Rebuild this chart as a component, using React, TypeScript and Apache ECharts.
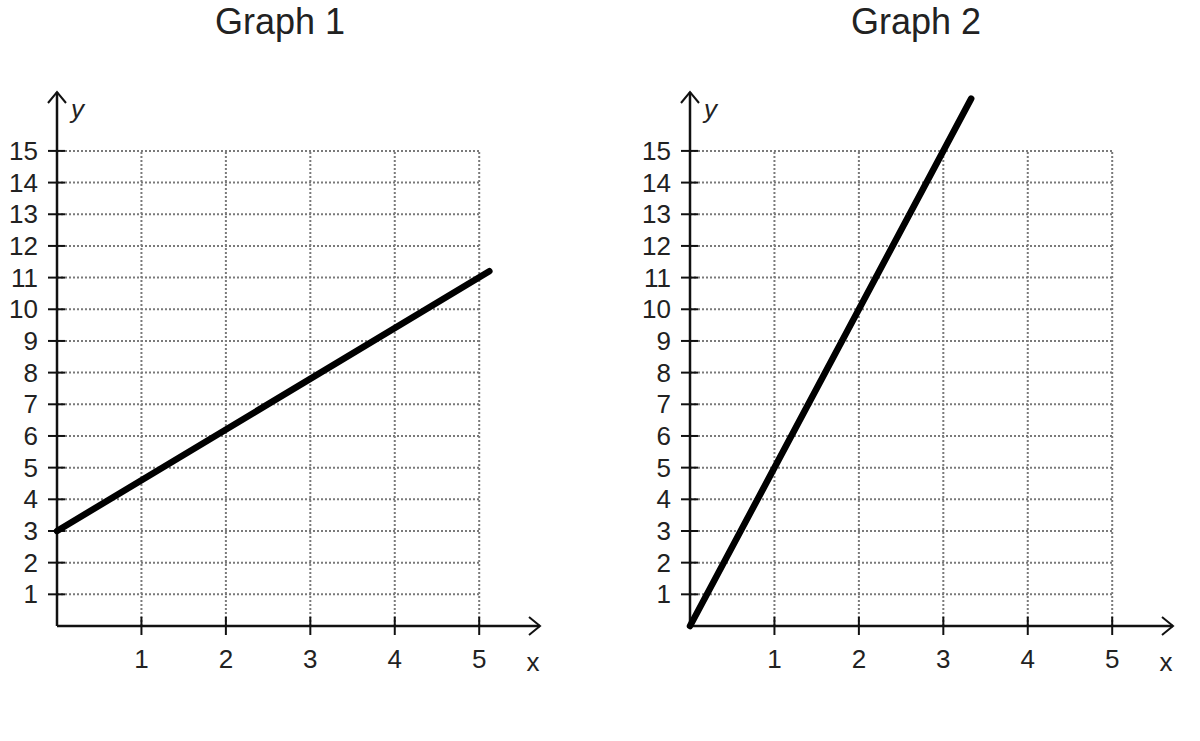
import React, { useEffect, useRef } from "react";
import * as echarts from "echarts";

const titles = ["Graph 1", "Graph 2"];
const xTicks = [1, 2, 3, 4, 5];
const yTicks = [1, 2, 3, 4, 5, 6, 7, 8, 9, 10, 11, 12, 13, 14, 15];
const xGridMax = 5;
const yGridMax = 15;
const xAxisMax = 5.72;
const yAxisMax = 16.86;
const line1 = [
  [0, 3],
  [5.12, 11.2],
];
const line2 = [
  [0, 0],
  [3.33, 16.65],
];
const lines = [line1, line2];

const FONT = "Liberation Sans, Arial, sans-serif";

export default function App() {
  const ref = useRef<HTMLDivElement>(null);
  useEffect(() => {
    if (!ref.current) return;
    const chart = echarts.init(ref.current, null, { renderer: "svg" });

    const gridData = [
      ...yTicks.map((y) => [0, y, xGridMax, y]),
      ...xTicks.map((x) => [x, 0, x, yGridMax]),
    ];

    const grids = [
      { left: 57, top: 92, width: 483, height: 534 },
      { left: 690, top: 92, width: 483, height: 534 },
    ];

    const xAxes = grids.map((_, i) => ({
      type: "value",
      gridIndex: i,
      min: 0,
      max: xAxisMax,
      interval: 1,
      axisLine: { show: false },
      axisTick: { show: false },
      splitLine: { show: false },
      axisLabel: {
        fontSize: 26,
        fontFamily: FONT,
        color: "#222",
        margin: 20,
        formatter: (v: number) => (xTicks.includes(v) ? String(v) : ""),
      },
    }));
    const yAxes = grids.map((_, i) => ({
      type: "value",
      gridIndex: i,
      min: 0,
      max: yAxisMax,
      interval: 1,
      axisLine: { show: false },
      axisTick: { show: false },
      splitLine: { show: false },
      axisLabel: {
        fontSize: 26,
        fontFamily: FONT,
        color: "#222",
        margin: 19,
        formatter: (v: number) => (yTicks.includes(v) ? String(v) : ""),
      },
    }));

    const series: any[] = [];
    grids.forEach((_, i) => {
      series.push({
        type: "custom",
        xAxisIndex: i,
        yAxisIndex: i,
        clip: false,
        z: 1,
        data: gridData,
        renderItem: (params: any, api: any) => {
          const p1 = api.coord([api.value(0), api.value(1)]);
          const p2 = api.coord([api.value(2), api.value(3)]);
          return {
            type: "line",
            shape: { x1: p1[0], y1: p1[1], x2: p2[0], y2: p2[1] },
            style: { stroke: "#7a7a7a", lineWidth: 2, lineDash: [2, 2] },
          };
        },
      });
      series.push({
        type: "custom",
        xAxisIndex: i,
        yAxisIndex: i,
        clip: false,
        z: 3,
        data: [[xAxisMax, yAxisMax]],
        renderItem: (params: any, api: any) => {
          const o = api.coord([0, 0]);
          const xe = api.coord([api.value(0), 0]);
          const ye = api.coord([0, api.value(1)]);
          const axisStyle = { stroke: "#111", lineWidth: 2.5, fill: "none" };
          const children: any[] = [
            { type: "line", shape: { x1: o[0], y1: o[1], x2: xe[0], y2: xe[1] }, style: axisStyle },
            { type: "line", shape: { x1: o[0], y1: o[1], x2: ye[0], y2: ye[1] }, style: axisStyle },
            {
              type: "polyline",
              shape: { points: [[xe[0] - 11, xe[1] - 9], [xe[0], xe[1]], [xe[0] - 11, xe[1] + 9]] },
              style: { stroke: "#111", lineWidth: 2, fill: "none" },
            },
            {
              type: "polyline",
              shape: { points: [[ye[0] - 9, ye[1] + 11], [ye[0], ye[1]], [ye[0] + 9, ye[1] + 11]] },
              style: { stroke: "#111", lineWidth: 2, fill: "none" },
            },
            {
              type: "text",
              style: {
                text: "x",
                x: xe[0] - 7,
                y: xe[1] + 36,
                font: `26px ${FONT}`,
                fill: "#222",
                align: "center",
                verticalAlign: "middle",
              },
            },
            {
              type: "text",
              style: {
                text: "y",
                x: ye[0] + 14,
                y: ye[1] + 17,
                font: `italic 26px ${FONT}`,
                fill: "#222",
                align: "left",
                verticalAlign: "middle",
              },
            },
          ];
          xTicks.forEach((t) => {
            const p = api.coord([t, 0]);
            children.push({
              type: "line",
              shape: { x1: p[0], y1: p[1] - 9, x2: p[0], y2: p[1] + 9 },
              style: { stroke: "#111", lineWidth: 2 },
            });
          });
          yTicks.forEach((t) => {
            const p = api.coord([0, t]);
            children.push({
              type: "line",
              shape: { x1: p[0] - 9, y1: p[1], x2: p[0] + 8, y2: p[1] },
              style: { stroke: "#111", lineWidth: 2 },
            });
          });
          return { type: "group", children };
        },
      });
      series.push({
        type: "line",
        xAxisIndex: i,
        yAxisIndex: i,
        data: lines[i],
        symbol: "none",
        clip: false,
        z: 5,
        lineStyle: { color: "#000", width: 6.5, cap: "round" },
      });
    });

    chart.setOption({
      animation: false,
      backgroundColor: "#fff",
      title: [
        {
          text: titles[0],
          left: 280,
          top: 3,
          padding: 0,
          textAlign: "center",
          textStyle: { fontSize: 36, fontWeight: "normal", fontFamily: FONT, color: "#222" },
        },
        {
          text: titles[1],
          left: 916,
          top: 3,
          padding: 0,
          textAlign: "center",
          textStyle: { fontSize: 36, fontWeight: "normal", fontFamily: FONT, color: "#222" },
        },
      ],
      grid: grids,
      xAxis: xAxes,
      yAxis: yAxes,
      series,
    });
    return () => chart.dispose();
  }, []);
  return (
    <div
      ref={ref}
      style={{ position: "absolute", left: 0, top: 0, width: 1200, height: 741 }}
    />
  );
}
